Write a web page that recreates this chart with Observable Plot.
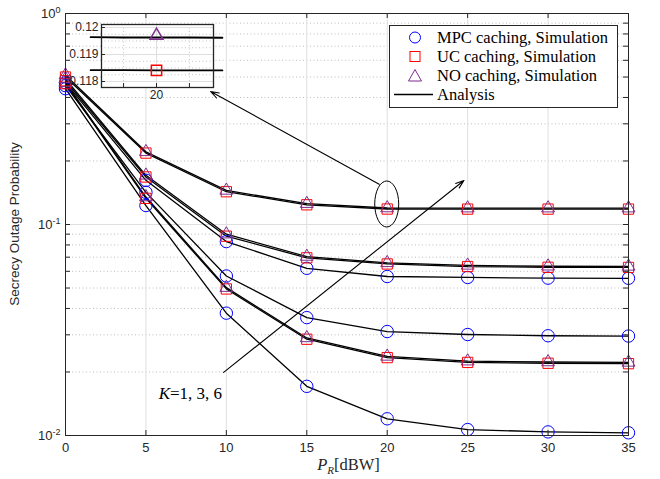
<!DOCTYPE html>
<html><head><meta charset="utf-8">
<script src="https://cdn.jsdelivr.net/npm/d3@7"></script>
<script src="https://cdn.jsdelivr.net/npm/@observablehq/plot@0.6"></script>
<style>
body{margin:0;background:#fff;}
#wrap{position:relative;width:660px;height:479px;overflow:hidden;}
#inset{position:absolute;left:61px;top:22px;}
#legend{position:absolute;left:389px;top:25px;width:227px;height:81px;border:1px solid #262626;background:#fff;
 font-family:"Liberation Serif","Times New Roman",serif;font-size:16.5px;color:#000;}
.lrow{position:absolute;left:0;height:19px;line-height:19px;white-space:nowrap;}
.lrow svg{position:absolute;left:0;top:0;}
.lrow span{position:absolute;left:47px;top:0;}
</style>
</head><body>
<div id="wrap"><div id="main"></div><div id="inset"></div><div id="legend"></div></div>
<script>
// ---- data ----
const pr = [0, 5, 10, 15, 20, 25, 30, 35];
// K = 6
const mpcK6 = [0.47, 0.162, 0.083, 0.062, 0.0567, 0.0561, 0.0557, 0.0556];
const ucK6  = [0.50, 0.218, 0.143, 0.124, 0.1184, 0.1183, 0.1183, 0.1183];
const noK6  = [0.51, 0.221, 0.145, 0.1255, 0.1197, 0.1195, 0.1195, 0.1195];
// K = 3
const mpcK3 = [0.455, 0.142, 0.057, 0.0362, 0.0311, 0.0301, 0.0297, 0.0296];
const ucK3  = [0.48, 0.168, 0.088, 0.0695, 0.0650, 0.0632, 0.0627, 0.0626];
const noK3  = [0.49, 0.171, 0.090, 0.0705, 0.0658, 0.0640, 0.0634, 0.0633];
// K = 1
const mpcK1 = [0.44, 0.123, 0.038, 0.0171, 0.0120, 0.01067, 0.0104, 0.0103];
const ucK1  = [0.465, 0.133, 0.0495, 0.0286, 0.0234, 0.0222, 0.0220, 0.0219];
const noK1  = [0.47, 0.135, 0.0502, 0.0290, 0.0237, 0.0225, 0.0223, 0.0222];

// inset (zoom around P_R = 20 dBW, K = 6)
const insetPR = [18, 19, 20, 21, 22];
const insetUC = [0.11842, 0.11842, 0.11841, 0.11841, 0.11841];
const insetNO = [0.11964, 0.11963, 0.11963, 0.11963, 0.11962];
const insetSimPR = [20];
const insetSimUC = [0.11841];
const insetSimNO = [0.11970];

const xTicks = [0, 5, 10, 15, 20, 25, 30, 35];
const yMajor = [0.01, 0.1, 1];
const yMinor = [0.02,0.03,0.04,0.05,0.06,0.07,0.08,0.09,0.2,0.3,0.4,0.5,0.6,0.7,0.8,0.9];
const insetYTicks = [0.118, 0.119, 0.12];
const insetYMinor = [0.11825, 0.1185, 0.11875, 0.11925, 0.1195, 0.11975];
const insetXGrid = [19, 20, 21];
const insetXLabels = [20];

const legendLabels = ["MPC caching, Simulation", "UC caching, Simulation", "NO caching, Simulation", "Analysis"];
const colMPC = "#0000ff", colUC = "#ff0000", colNO = "#7e2f8e";

// annotations in data coordinates
const ellipseAt = [{x: 20, y: 0.1244}];
const arrows = [
  {x1: 19.5, y1: 0.155, x2: 9.02, y2: 0.427},
  {x1: 9.83, y1: 0.0199, x2: 24.77, y2: 0.1617}
];
const kLabel = [{x: 5.79, y: 0.0158, text: "K=1, 3, 6"}];

// ---- build tables ----
const series = [
  {id: "mpcK6", scheme: "MPC", v: mpcK6}, {id: "ucK6", scheme: "UC", v: ucK6}, {id: "noK6", scheme: "NO", v: noK6},
  {id: "mpcK3", scheme: "MPC", v: mpcK3}, {id: "ucK3", scheme: "UC", v: ucK3}, {id: "noK3", scheme: "NO", v: noK3},
  {id: "mpcK1", scheme: "MPC", v: mpcK1}, {id: "ucK1", scheme: "UC", v: ucK1}, {id: "noK1", scheme: "NO", v: noK1}
];
const rows = series.flatMap(s => s.v.map((p, i) => ({x: pr[i], y: p, id: s.id, scheme: s.scheme})));

const W = 660, H = 479, mL = 65, mR = 32, mT = 13, mB = 44;
const iw = W - mL - mR, ih = H - mT - mB;
const axisCol = "#262626";

const main = Plot.plot({
  width: W, height: H, marginLeft: mL, marginRight: mR, marginTop: mT, marginBottom: mB,
  style: {fontFamily: "'Liberation Sans', Arial, sans-serif", fontSize: "13px", color: axisCol, background: "#fff", overflow: "visible"},
  x: {domain: [0, 35], label: null},
  y: {type: "log", domain: [0.01, 1], label: null},
  marks: [
    Plot.ruleY(yMinor, {stroke: "#bdbdbd", strokeDasharray: "1,2.5", strokeWidth: 1}),
    Plot.ruleX(xTicks, {stroke: "#dfdfdf", strokeWidth: 1}),
    Plot.ruleY(yMajor, {stroke: "#dfdfdf", strokeWidth: 1}),
    Plot.line(rows, {x: "x", y: "y", z: "id", stroke: "#000", strokeWidth: 1.3}),
    Plot.dot(rows.filter(d => d.scheme === "MPC"), {x: "x", y: "y", r: 6.2, stroke: colMPC, strokeWidth: 1, fill: "none"}),
    Plot.dot(rows.filter(d => d.scheme === "UC"), {x: "x", y: "y", symbol: "square", r: 5.8, stroke: colUC, strokeWidth: 1, fill: "none"}),
    Plot.dot(rows.filter(d => d.scheme === "NO"), {x: "x", y: "y", symbol: "triangle", r: 4.8, stroke: colNO, strokeWidth: 1, fill: "none"}),
    Plot.arrow(arrows, {x1: "x1", y1: "y1", x2: "x2", y2: "y2", stroke: "#000", strokeWidth: 1.1, headLength: 12, headAngle: 38}),
    Plot.text(kLabel, {x: "x", y: "y", text: "text", textAnchor: "start", fontFamily: "'Liberation Serif', 'Times New Roman', serif", fontSize: 17, fill: "#000"}),
    // ticks (inward, all four sides)
    Plot.ruleX(xTicks, {stroke: axisCol, insetTop: ih - 5}),
    Plot.ruleX(xTicks, {stroke: axisCol, insetBottom: ih - 5}),
    Plot.ruleY(yMajor.concat(yMinor), {stroke: axisCol, insetRight: iw - 5}),
    Plot.ruleY(yMajor.concat(yMinor), {stroke: axisCol, insetLeft: iw - 5}),
    Plot.frame({stroke: axisCol, strokeWidth: 1}),
    Plot.axisX(xTicks, {tickSize: 0, tickPadding: 7, fontSize: 13}),
    Plot.axisY(yMajor, {tickSize: 0, tickPadding: 5, fontSize: 13, tickFormat: d => "10^" + Math.round(Math.log10(d))})
  ]
});
document.getElementById("main").appendChild(main);
const svg = d3.select(main);
const sx = main.scale("x"), sy = main.scale("y");

// superscript y tick labels
svg.selectAll('g[aria-label="y-axis tick label"] text').each(function() {
  const t = d3.select(this); const s = t.text(); const [b, e] = s.split("^");
  t.text(null);
  t.append("tspan").text(b);
  t.append("tspan").attr("dy", "-0.5em").attr("font-size", "9px").text(e);
});
// italic K in annotation
svg.selectAll("text").each(function() {
  const t = d3.select(this);
  if (t.text() === kLabel[0].text) {
    t.text(null);
    t.append("tspan").attr("font-style", "italic").text("K");
    t.append("tspan").text("=1, 3, 6");
  }
});
// ellipse around the markers at 20 dBW
ellipseAt.forEach(d => {
  svg.append("ellipse").attr("cx", sx.apply(d.x)).attr("cy", sy.apply(d.y)).attr("rx", 12).attr("ry", 23)
    .attr("fill", "none").attr("stroke", "#000").attr("stroke-width", 1);
});
// axis titles
const xl = svg.append("text").attr("x", mL + iw / 2 + 2).attr("y", H - 9).attr("text-anchor", "middle")
  .attr("font-family", "'Liberation Serif','Times New Roman',serif").attr("font-size", 16.5).attr("fill", axisCol);
xl.append("tspan").attr("font-style", "italic").text("P");
xl.append("tspan").attr("font-style", "italic").attr("font-size", 11).attr("dy", 4).text("R");
xl.append("tspan").attr("dy", -4).text("[dBW]");
svg.append("text").attr("transform", `translate(19,${mT + ih / 2}) rotate(-90)`).attr("text-anchor", "middle")
  .attr("font-family", "'Liberation Sans', Arial, sans-serif").attr("font-size", 13.5).attr("fill", axisCol)
  .text("Secrecy Outage Probability");

// ---- inset ----
const insetRowsLine = [
  ...insetPR.map((x, i) => ({x, y: insetUC[i], id: "uc"})),
  ...insetPR.map((x, i) => ({x, y: insetNO[i], id: "no"}))
];
const iL = 40, iR = 2, iT = 2, iB = 16, iW = 112, iH = 63;
const inset = Plot.plot({
  width: iL + iW + iR, height: iT + iH + iB, marginLeft: iL, marginRight: iR, marginTop: iT, marginBottom: iB,
  style: {fontFamily: "'Liberation Sans', Arial, sans-serif", fontSize: "12px", color: axisCol, background: "transparent", overflow: "visible"},
  x: {domain: [18.33, 21.73], label: null},
  y: {domain: [0.117778, 0.120111], label: null},
  marks: [
    Plot.frame({fill: "#fff", stroke: "none"}),
    Plot.ruleY(insetYMinor, {stroke: "#c4c4c4", strokeDasharray: "1,2.5"}),
    Plot.ruleX(insetXGrid, {stroke: "#c4c4c4", strokeDasharray: "1,2.5"}),
    Plot.ruleX(insetXLabels, {stroke: "#dfdfdf"}),
    Plot.ruleY(insetYTicks, {stroke: "#dfdfdf"}),
    Plot.line(insetRowsLine, {x: "x", y: "y", z: "id", stroke: "#000", strokeWidth: 1.8}),
    Plot.dot(insetSimPR.map((x, i) => ({x, y: insetSimUC[i]})), {x: "x", y: "y", symbol: "square", r: 5.8, stroke: colUC, fill: "none"}),
    Plot.dot(insetSimPR.map((x, i) => ({x, y: insetSimNO[i]})), {x: "x", y: "y", symbol: "triangle", r: 4.8, stroke: colNO, fill: "none"}),
    Plot.ruleX(insetXGrid, {stroke: axisCol, insetTop: iH - 4}),
    Plot.ruleY(insetYTicks, {stroke: axisCol, insetRight: iW - 4}),
    Plot.frame({stroke: axisCol, strokeWidth: 1.3}),
    Plot.axisX(insetXLabels, {tickSize: 0, tickPadding: 3, fontSize: 12}),
    Plot.axisY(insetYTicks, {tickSize: 0, tickPadding: 3, fontSize: 12, tickFormat: d => String(+d.toFixed(3))})
  ]
});
document.getElementById("inset").appendChild(inset);

// ---- legend ----
const legend = d3.select("#legend");
const symbolMaker = [
  g => g.append("circle").attr("cx", 25).attr("cy", 9.5).attr("r", 5.5).attr("fill", "none").attr("stroke", colMPC),
  g => g.append("rect").attr("x", 20).attr("y", 4.5).attr("width", 10).attr("height", 10).attr("fill", "none").attr("stroke", colUC),
  g => g.append("path").attr("d", "M25,3.5 L31.5,15 L18.5,15 Z").attr("fill", "none").attr("stroke", colNO),
  g => g.append("line").attr("x1", 4).attr("x2", 43).attr("y1", 9.5).attr("y2", 9.5).attr("stroke", "#000").attr("stroke-width", 1.3)
];
legendLabels.forEach((lab, i) => {
  const row = legend.append("div").attr("class", "lrow").style("top", (1.5 + i * 19.3) + "px").style("width", "226px");
  const s = row.append("svg").attr("width", 46).attr("height", 19);
  symbolMaker[i](s);
  row.append("span").text(lab);
});
</script>
</body></html>
